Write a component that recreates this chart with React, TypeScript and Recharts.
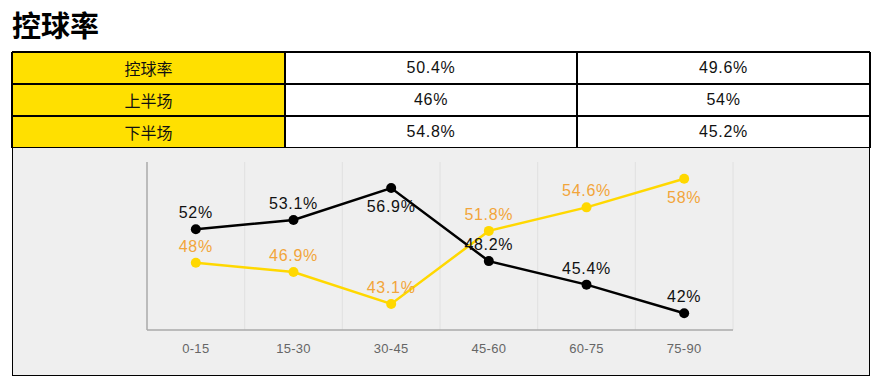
import React from "react";
import { LineChart, Line, XAxis, YAxis, CartesianGrid, LabelList } from "recharts";

const title = "控球率";
const tableRows = ["控球率", "上半场", "下半场"];
const homeStats = ["50.4%", "46%", "54.8%"];
const awayStats = ["49.6%", "54%", "45.2%"];

const periods = ["0-15", "15-30", "30-45", "45-60", "60-75", "75-90"];
const homeValues = [52, 53.1, 56.9, 48.2, 45.4, 42];
const awayValues = [48, 46.9, 43.1, 51.8, 54.6, 58];

const data = periods.map((p, i) => ({ period: p, home: homeValues[i], away: awayValues[i] }));

const BLACK = "#000000";
const YELLOW = "#FFD800";
const ORANGE = "#F2A53A";
const TABLE_YELLOW = "#FFE000";
const BG = "#EFEFEF";

const PLOT_TOP = 14;

const makeLabel = (color: string) => (props: any) => {
  const { x, y, value } = props;
  const below = y - PLOT_TOP < 30;
  return (
    <text
      x={x}
      y={below ? y + 24 : y - 11}
      textAnchor="middle"
      fill={color}
      fontSize={16}
      letterSpacing={0.7}
      fontFamily="'Liberation Sans', Arial, sans-serif"
    >
      {`${value}%`}
    </text>
  );
};

const border = "1.5px solid #000";

export default function App() {
  const cellBase: React.CSSProperties = {
    position: "absolute",
    height: 32,
    display: "flex",
    alignItems: "center",
    justifyContent: "center",
    boxSizing: "border-box",
    color: "#111",
  };
  const colX = [12, 285, 577, 870];
  const rowY = [52, 84, 116, 148];
  return (
    <div style={{ position: "absolute", left: 0, top: 0, width: 895, height: 389, background: "#fff" }}>
      <div
        style={{
          position: "absolute",
          left: 12,
          top: 8.5,
          height: 30,
          lineHeight: "30px",
          fontSize: 29,
          fontWeight: 700,
          fontFamily: "'Noto Sans CJK SC', sans-serif",
          color: "#000",
        }}
      >
        {title}
      </div>
      {tableRows.map((r, i) => (
        <React.Fragment key={r}>
          <div
            style={{
              ...cellBase,
              left: colX[0],
              top: rowY[i],
              width: colX[1] - colX[0],
              height: rowY[i + 1] - rowY[i],
              background: TABLE_YELLOW,
              fontFamily: "'Noto Sans CJK SC', sans-serif",
              fontSize: 16,
            }}
          >
            {r}
          </div>
          <div
            style={{
              ...cellBase,
              left: colX[1],
              top: rowY[i],
              width: colX[2] - colX[1],
              height: rowY[i + 1] - rowY[i],
              fontFamily: "'Liberation Sans', Arial, sans-serif",
              fontSize: 16,
              letterSpacing: 0.7,
            }}
          >
            {homeStats[i]}
          </div>
          <div
            style={{
              ...cellBase,
              left: colX[2],
              top: rowY[i],
              width: colX[3] - colX[2],
              height: rowY[i + 1] - rowY[i],
              fontFamily: "'Liberation Sans', Arial, sans-serif",
              fontSize: 16,
              letterSpacing: 0.7,
            }}
          >
            {awayStats[i]}
          </div>
        </React.Fragment>
      ))}
      {rowY.map((y) => (
        <div key={"h" + y} style={{ position: "absolute", left: 12, top: y - 0.75, width: 858, height: 1.5, background: "#000" }} />
      ))}
      {colX.map((x) => (
        <div
          key={"v" + x}
          style={{
            position: "absolute",
            left: x - 0.75,
            top: 52,
            width: 1.5,
            height: 96,
            background: "#000",
          }}
        />
      ))}
      <div
        style={{
          position: "absolute",
          left: 12,
          top: 148,
          width: 858,
          height: 228,
          background: BG,
          borderLeft: border,
          borderRight: border,
          borderBottom: border,
          boxSizing: "border-box",
        }}
      />
      <div style={{ position: "absolute", left: 12, top: 148 }}>
        <LineChart
          width={858}
          height={228}
          data={data}
          margin={{ top: PLOT_TOP, right: 137, bottom: 0, left: 115 }}
        >
          <CartesianGrid
            horizontal={false}
            vertical
            stroke="#E0E0E0"
            strokeWidth={1}
            verticalCoordinatesGenerator={({ offset }: any) => {
              const n = periods.length;
              const step = offset.width / n;
              return Array.from({ length: n }, (_, i) => offset.left + step * (i + 1));
            }}
          />
          <XAxis
            dataKey="period"
            scale="band"
            tickLine={false}
            axisLine={{ stroke: "#AAAAAA", strokeWidth: 1.5 }}
            tick={{ fill: "#666", fontSize: 13, fontFamily: "'Liberation Sans', Arial, sans-serif", letterSpacing: 0.3 }}
            tickMargin={8}
            height={46}
            interval={0}
          />
          <YAxis
            domain={[40, 60]}
            width={20}
            tick={false}
            tickLine={false}
            axisLine={{ stroke: "#AAAAAA", strokeWidth: 1.5 }}
          />
          <Line
            type="linear"
            dataKey="home"
            name="主队"
            stroke={BLACK}
            strokeWidth={2.5}
            dot={{ r: 5, fill: BLACK, stroke: BLACK, strokeWidth: 0 }}
            isAnimationActive={false}
          >
            <LabelList dataKey="home" content={makeLabel("#111")} />
          </Line>
          <Line
            type="linear"
            dataKey="away"
            name="客队"
            stroke={YELLOW}
            strokeWidth={2.5}
            dot={{ r: 5, fill: YELLOW, stroke: YELLOW, strokeWidth: 0 }}
            isAnimationActive={false}
          >
            <LabelList dataKey="away" content={makeLabel(ORANGE)} />
          </Line>
        </LineChart>
      </div>
    </div>
  );
}
